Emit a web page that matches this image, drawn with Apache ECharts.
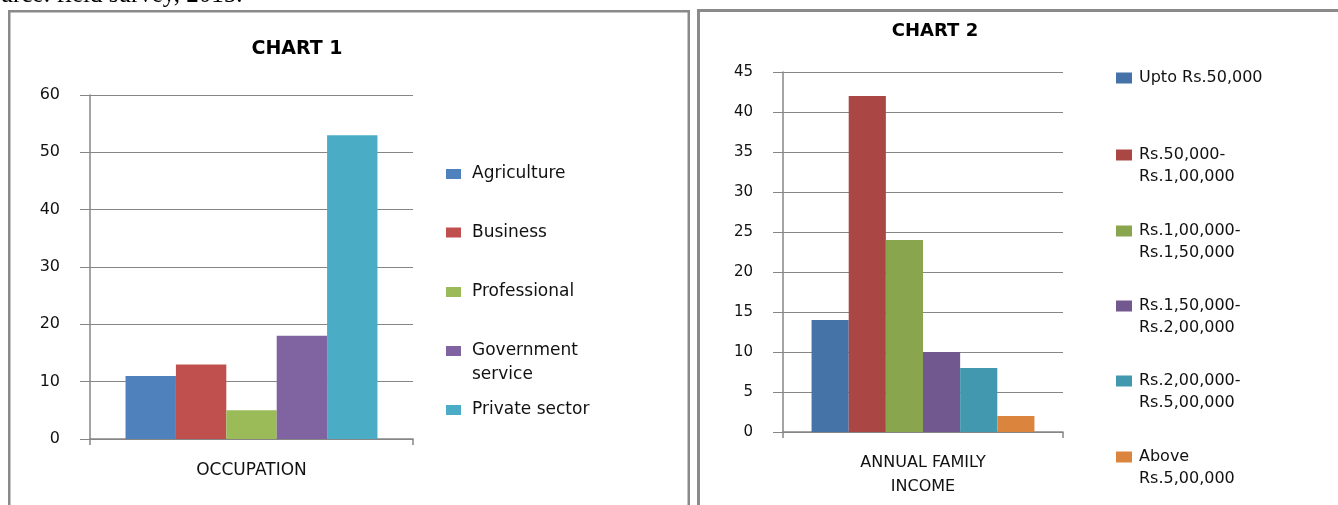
<!DOCTYPE html>
<html>
<head>
<meta charset="utf-8">
<script src="https://cdn.jsdelivr.net/npm/echarts@6/dist/echarts.min.js"></script>
<style>
html,body{margin:0;padding:0;background:#fff;}
#main{width:1338px;height:505px;}
</style>
</head>
<body>
<div id="main"></div>
<script>
// ---- data ----
const occCategories = ['OCCUPATION'];
const occNames = ['Agriculture', 'Business', 'Professional', 'Government service', 'Private sector'];
const occLegendLabels = ['Agriculture', 'Business', 'Professional', 'Government\nservice', 'Private sector'];
const occValues = [11, 13, 5, 18, 53];
const occColors = ['#4F81BD', '#C0504D', '#9BBB59', '#8064A2', '#4BACC6'];
const occYTicks = [0, 10, 20, 30, 40, 50, 60];

const incCategories = ['ANNUAL FAMILY\nINCOME'];
const incNames = ['Upto Rs.50,000', 'Rs.50,000-Rs.1,00,000', 'Rs.1,00,000-Rs.1,50,000', 'Rs.1,50,000-Rs.2,00,000', 'Rs.2,00,000-Rs.5,00,000', 'Above Rs.5,00,000'];
const incLegendLabels = ['Upto Rs.50,000', 'Rs.50,000-\nRs.1,00,000', 'Rs.1,00,000-\nRs.1,50,000', 'Rs.1,50,000-\nRs.2,00,000', 'Rs.2,00,000-\nRs.5,00,000', 'Above\nRs.5,00,000'];
const incValues = [14, 42, 24, 10, 8, 2];
const incColors = ['#4572A7', '#AA4643', '#89A54E', '#71588F', '#4198AF', '#DB843D'];
const incYTicks = [0, 5, 10, 15, 20, 25, 30, 35, 40, 45];

// ---- layout ----
const FONT = 'DejaVu Sans';
const TXT = '#111';
const GRID_C = '#868686';

function makeLegends(names, labels, left, centers, lh, iw, ih, padLeft, fs) {
  return names.map((n, i) => {
    const two = labels[i].indexOf('\n') >= 0;
    // a leading empty line keeps the first text line level with the colour key
    const shown = two ? '\n' + labels[i] : labels[i];
    return {
      data: [n],
      orient: 'vertical',
      left: left,
      top: two ? centers[i] - 1.5 * lh : centers[i] - lh / 2,
      padding: 0,
      icon: 'rect',
      itemWidth: iw,
      itemHeight: ih,
      selectedMode: false,
      formatter: () => shown,
      textStyle: {
        fontFamily: FONT, fontSize: fs, color: TXT, lineHeight: lh,
        backgroundColor: 'rgba(255,255,255,0)',
        padding: [0, 0, 0, padLeft]
      }
    };
  });
}

const legends = [].concat(
  makeLegends(occNames, occLegendLabels, 446, [174, 232.5, 292, 351, 410], 24, 15, 10, 6, 17),
  makeLegends(incNames, incLegendLabels, 1116, [78, 155, 231, 306, 381, 457], 22, 16, 11, 2, 16)
);

function yAxis(idx, max, interval, fs) {
  return {
    type: 'value', gridIndex: idx, min: 0, max: max, interval: interval,
    axisLine: { show: true, lineStyle: { color: GRID_C, width: 1.5 } },
    axisTick: { show: true, length: 10, lineStyle: { color: GRID_C } },
    splitLine: { show: true, lineStyle: { color: GRID_C, width: 1 } },
    axisLabel: { margin: 30, fontFamily: FONT, fontSize: fs, color: TXT }
  };
}
function xAxis(idx, cats, margin, fs) {
  return {
    type: 'category', gridIndex: idx, data: cats,
    axisLine: { show: true, lineStyle: { color: GRID_C, width: 1.5 } },
    axisTick: { show: true, length: 6, alignWithLabel: false, lineStyle: { color: GRID_C, width: 1.5 } },
    axisLabel: { margin: margin, fontFamily: FONT, fontSize: fs, color: TXT, lineHeight: 24 }
  };
}

const series = [];
occNames.forEach((n, i) => {
  series.push({
    type: 'bar', name: n, xAxisIndex: 0, yAxisIndex: 0,
    data: [occValues[i]], barGap: '0%', barCategoryGap: '22%',
    itemStyle: { color: occColors[i] }
  });
});
incNames.forEach((n, i) => {
  series.push({
    type: 'bar', name: n, xAxisIndex: 1, yAxisIndex: 1,
    data: [incValues[i]], barGap: '0%', barCategoryGap: '20.4%',
    itemStyle: { color: incColors[i] }
  });
});

const option = {
  animation: false,
  backgroundColor: '#fff',
  title: [
    { text: 'CHART 1', left: 297, top: 40, textAlign: 'center', padding: 0,
      textStyle: { fontFamily: FONT, fontWeight: 'bold', fontSize: 19, color: '#000' } },
    { text: 'CHART 2', left: 935, top: 22, textAlign: 'center', padding: 0,
      textStyle: { fontFamily: FONT, fontWeight: 'bold', fontSize: 18, color: '#000' } }
  ],
  legend: legends,
  grid: [
    { left: 90, top: 95, width: 323, height: 344 },
    { left: 783, top: 72, width: 280, height: 360 }
  ],
  xAxis: [xAxis(0, occCategories, 20, 17), xAxis(1, incCategories, 19, 16)],
  yAxis: [yAxis(0, 60, 10, 16), yAxis(1, 45, 5, 15)],
  series: series,
  graphic: [
    { type: 'rect', silent: true, z: 100,
      shape: { x: 9.25, y: 11.25, width: 679.5, height: 600 },
      style: { fill: 'none', stroke: '#8a8a8a', lineWidth: 2.5 } },
    { type: 'rect', silent: true, z: 100,
      shape: { x: 698.5, y: 10.5, width: 700, height: 600 },
      style: { fill: 'none', stroke: '#8a8a8a', lineWidth: 3 } },
    { type: 'text', silent: true, x: -26, y: 7.5,
      style: { text: 'Source: field survey, 2015.', font: '25px "Liberation Serif"', fill: '#000',
               textAlign: 'left', textVerticalAlign: 'bottom' } }
  ]
};

const chart = echarts.init(document.getElementById('main'), null, { renderer: 'canvas' });
chart.setOption(option);
</script>
</body>
</html>
